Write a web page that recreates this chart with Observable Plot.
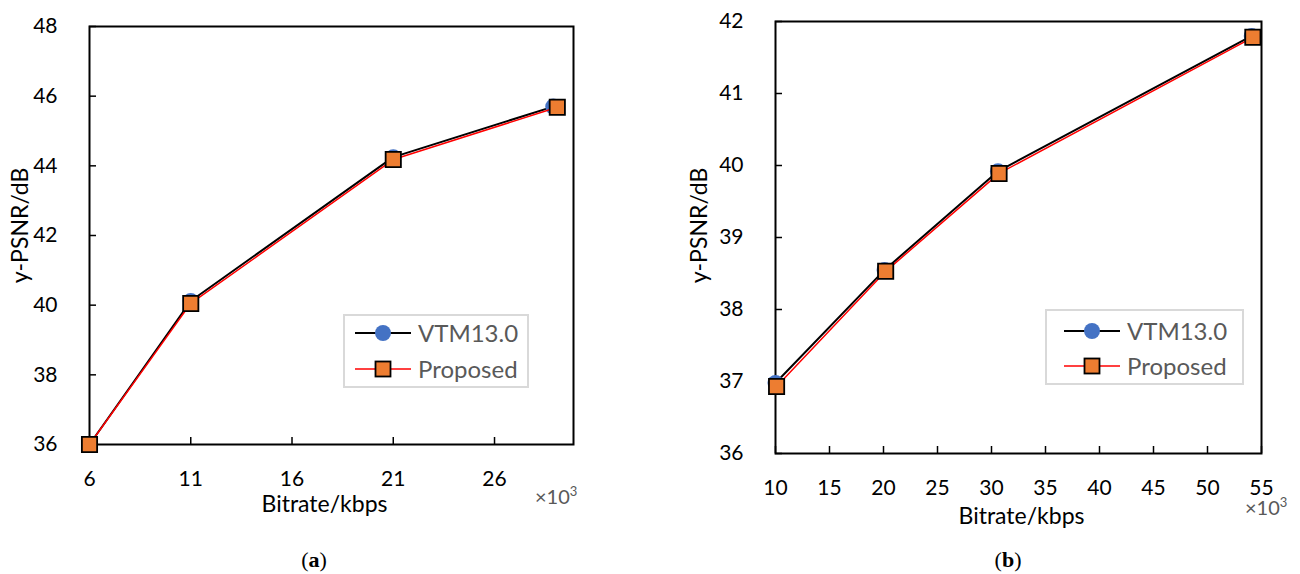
<!DOCTYPE html>
<html>
<head>
<meta charset="utf-8">
<script src="https://cdn.jsdelivr.net/npm/d3@7"></script>
<script src="https://cdn.jsdelivr.net/npm/@observablehq/plot@0.6"></script>
<style>
  body { margin: 0; background: white; }
  #wrap { position: relative; width: 1300px; height: 574px; overflow: hidden; font-family: Lato, sans-serif; }
  .plot { position: absolute; top: 0; }
  .abs { position: absolute; }
  .mult { font-family: Lato, sans-serif; font-size: 20px; line-height: 20px; color: #595959; white-space: nowrap; }
  .mult sup { font-size: 13px; line-height: 0; }
  .cap { font-family: "Liberation Serif", serif; font-size: 22px; color: black; transform: translateX(-50%); }
</style>
</head>
<body>
<div id="wrap"></div>
<script>
// ---------- data ----------
const seriesNames = ["VTM13.0", "Proposed"];

// chart (a)
const aVtmX = [6, 11, 21, 28.9];
const aVtmY = [36.0, 40.12, 44.25, 45.7];
const aPropX = [6, 11, 21, 29.1];
const aPropY = [36.0, 40.05, 44.18, 45.68];
const aXTicks = [6, 11, 16, 21, 26];
const aYTicks = [36, 38, 40, 42, 44, 46, 48];

// chart (b)
const bVtmX = [10, 20.1, 30.6, 54.1];
const bVtmY = [36.98, 38.55, 39.92, 41.8];
const bPropX = [10.1, 20.2, 30.7, 54.2];
const bPropY = [36.93, 38.53, 39.89, 41.78];
const bXTicks = [10, 15, 20, 25, 30, 35, 40, 45, 50, 55];
const bYTicks = [36, 37, 38, 39, 40, 41, 42];

const xTitle = "Bitrate/kbps";
const yTitle = "y-PSNR/dB";

// ---------- drawing ----------
const wrap = document.getElementById("wrap");
const zip = (xs, ys) => xs.map((x, i) => ({x, y: ys[i]}));

function chart(o) {
  const W = 650, H = 530;
  const plotW = W - o.ml - o.mr, plotH = H - o.mt - o.mb;
  const vtm = zip(o.vx, o.vy), prop = zip(o.px, o.py);
  const p = Plot.plot({
    width: W, height: H,
    marginLeft: o.ml, marginRight: o.mr, marginTop: o.mt, marginBottom: o.mb,
    x: {domain: o.xd},
    y: {domain: o.yd},
    style: {fontFamily: "Lato, sans-serif", fontSize: "21px", color: "black", background: "white"},
    marks: [
      Plot.frame({stroke: "black", strokeWidth: 2}),
      Plot.tickY(o.yt, {y: d => d, insetRight: plotW - 7, stroke: "black", strokeWidth: 1.5}),
      Plot.tickX(o.xt, {x: d => d, insetTop: plotH - 7, stroke: "black", strokeWidth: 1.5}),
      Plot.axisY({ticks: o.yt, tickSize: 0, tickPadding: 32, label: null, fontSize: 21, tickFormat: d => String(d)}),
      Plot.axisX({ticks: o.xt, tickSize: 0, tickPadding: 27, label: null, fontSize: 21, tickFormat: d => String(d)}),
      Plot.line(vtm, {x: "x", y: "y", stroke: "black", strokeWidth: 2}),
      Plot.dot(vtm, {x: "x", y: "y", r: 8, fill: "#4472C4", stroke: "none"}),
      Plot.line(prop, {x: "x", y: "y", stroke: "#FF0000", strokeWidth: 1.5}),
      Plot.dot(prop, {x: "x", y: "y", r: 8.6, symbol: "square", fill: "#ED7D31", stroke: "black", strokeWidth: 1.8}),
      Plot.text([yTitle], {text: d => d, frameAnchor: "left", textAnchor: "middle", lineAnchor: "middle", rotate: -90, dx: o.ytdx, dy: o.ytdy, fontSize: 23, fill: "black"}),
      Plot.text([xTitle], {text: d => d, frameAnchor: "bottom", textAnchor: "middle", lineAnchor: "middle", dx: o.xtdx, dy: o.xtdy, fontSize: 23, fill: "black"})
    ]
  });
  p.classList.add("plot");
  p.style.left = o.left + "px";
  wrap.appendChild(p);
}

chart({left: 0, ml: 89, mr: 77, mt: 26, mb: 86, xd: [6, 29.9], yd: [36, 48],
  vx: aVtmX, vy: aVtmY, px: aPropX, py: aPropY, xt: aXTicks, yt: aYTicks,
  ytdx: -69, ytdy: -10, xtdx: -7, xtdy: 60});
chart({left: 650, ml: 125, mr: 39, mt: 21, mb: 77, xd: [10, 55], yd: [36, 42],
  vx: bVtmX, vy: bVtmY, px: bPropX, py: bPropY, xt: bXTicks, yt: bYTicks,
  ytdx: -76, ytdy: -12, xtdx: 3, xtdy: 63});

// legends
function legend(left, top, w, h, r1, r2, lx1, lx2, tx) {
  const s = d3.create("svg").attr("width", w).attr("height", h)
    .style("position", "absolute").style("left", left + "px").style("top", top + "px");
  s.append("rect").attr("x", 1).attr("y", 1).attr("width", w - 2).attr("height", h - 2)
    .attr("fill", "white").attr("stroke", "#D9D9D9").attr("stroke-width", 2);
  const mx = (lx1 + lx2) / 2;
  s.append("line").attr("x1", lx1).attr("x2", lx2).attr("y1", r1).attr("y2", r1).attr("stroke", "black").attr("stroke-width", 2);
  s.append("circle").attr("cx", mx).attr("cy", r1).attr("r", 8).attr("fill", "#4472C4");
  s.append("line").attr("x1", lx1).attr("x2", lx2).attr("y1", r2).attr("y2", r2).attr("stroke", "#FF0000").attr("stroke-width", 1.5);
  s.append("rect").attr("x", mx - 7.5).attr("y", r2 - 7.5).attr("width", 15).attr("height", 15)
    .attr("fill", "#ED7D31").attr("stroke", "black").attr("stroke-width", 1.8);
  [r1, r2].forEach((ry, i) => {
    s.append("text").attr("x", tx).attr("y", ry).attr("dy", "0.36em")
      .attr("font-family", "Lato, sans-serif").attr("font-size", 24).attr("fill", "#595959").text(seriesNames[i]);
  });
  wrap.appendChild(s.node());
}
legend(343, 314, 186, 74, 19, 55, 12, 68, 75);
legend(1045, 309, 199, 76, 22, 57, 19, 75, 82);

// multipliers and captions
function addHTML(cls, left, top, html) {
  const d = document.createElement("div");
  d.className = "abs " + cls;
  d.style.left = left + "px"; d.style.top = top + "px";
  d.innerHTML = html;
  wrap.appendChild(d);
}
addHTML("mult", 535, 486, "×10<sup>3</sup>");
addHTML("mult", 1245, 497, "×10<sup>3</sup>");
addHTML("cap", 314, 547, "(<b>a</b>)");
addHTML("cap", 1008, 547, "(<b>b</b>)");
</script>
</body>
</html>
